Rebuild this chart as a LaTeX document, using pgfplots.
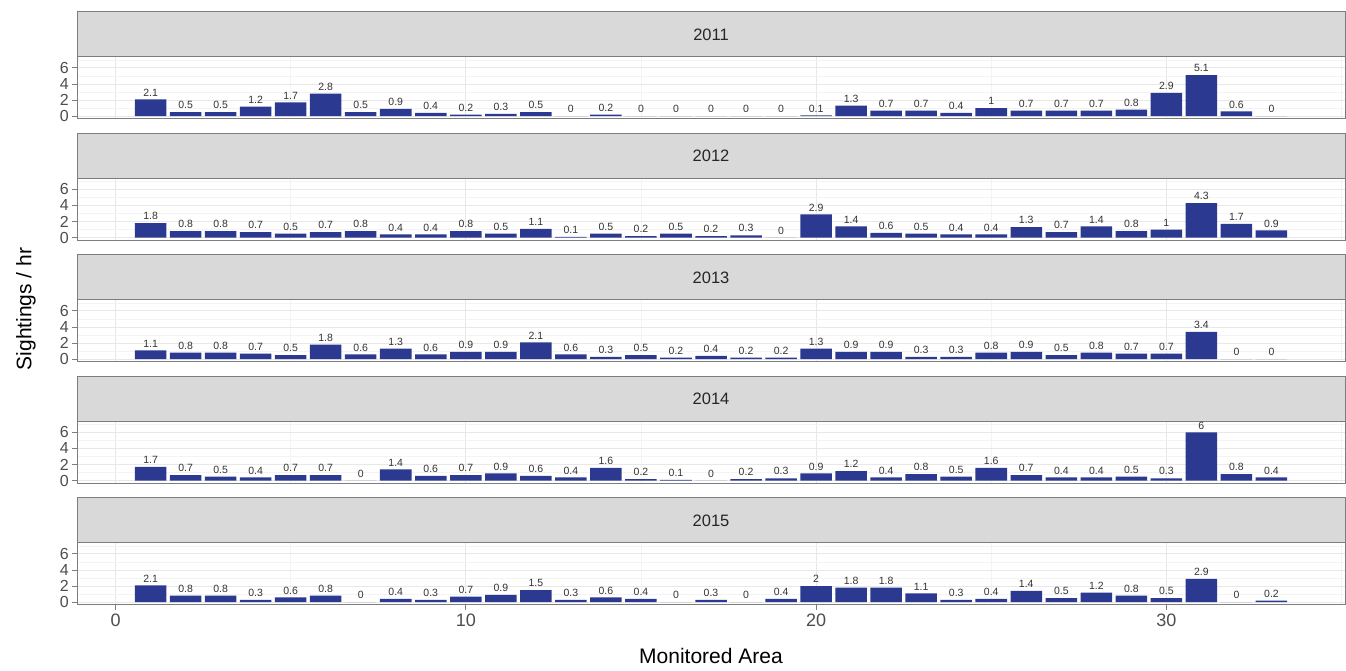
\documentclass[border=0pt]{standalone}
\usepackage{pgfplots}
\pgfplotsset{compat=1.18}
\usepackage{pgfplotstable}
\usepackage{fontspec}
\setmainfont{Liberation Sans}

\definecolor{barblue}{RGB}{44,57,145}
\definecolor{stripgrey}{RGB}{217,217,217}
\definecolor{bordergrey}{RGB}{125,125,125}
\definecolor{gridmaj}{RGB}{232,232,232}
\definecolor{gridmin}{RGB}{243,243,243}
\definecolor{ticktext}{RGB}{77,77,77}

\pgfplotstableread{
x y2011 y2012 y2013 y2014 y2015
1 2.1 1.8 1.1 1.7 2.1
2 0.5 0.8 0.8 0.7 0.8
3 0.5 0.8 0.8 0.5 0.8
4 1.2 0.7 0.7 0.4 0.3
5 1.7 0.5 0.5 0.7 0.6
6 2.8 0.7 1.8 0.7 0.8
7 0.5 0.8 0.6 0 0
8 0.9 0.4 1.3 1.4 0.4
9 0.4 0.4 0.6 0.6 0.3
10 0.2 0.8 0.9 0.7 0.7
11 0.3 0.5 0.9 0.9 0.9
12 0.5 1.1 2.1 0.6 1.5
13 0 0.1 0.6 0.4 0.3
14 0.2 0.5 0.3 1.6 0.6
15 0 0.2 0.5 0.2 0.4
16 0 0.5 0.2 0.1 0
17 0 0.2 0.4 0 0.3
18 0 0.3 0.2 0.2 0
19 0 0 0.2 0.3 0.4
20 0.1 2.9 1.3 0.9 2
21 1.3 1.4 0.9 1.2 1.8
22 0.7 0.6 0.9 0.4 1.8
23 0.7 0.5 0.3 0.8 1.1
24 0.4 0.4 0.3 0.5 0.3
25 1 0.4 0.8 1.6 0.4
26 0.7 1.3 0.9 0.7 1.4
27 0.7 0.7 0.5 0.4 0.5
28 0.7 1.4 0.8 0.4 1.2
29 0.8 0.8 0.7 0.5 0.8
30 2.9 1 0.7 0.3 0.5
31 5.1 4.3 3.4 6 2.9
32 0.6 1.7 0 0.8 0
33 0 0.9 0 0.4 0.2
}\data

\pgfplotsset{
  /pgf/number format/assume math mode=true,
  facet/.style={
    at={(77pt,#1)}, anchor=south west,
    scale only axis, width=1268pt, height=62pt,
    xmin=-1.1, xmax=35.1, ymin=-0.35, ymax=7.35,
    ybar, bar width=0.9,
    ytick={0,2,4,6}, minor ytick={1,3,5,7},
    xtick={0,10,20,30}, minor xtick={5,15,25,35},
    grid=both,
    major grid style={draw=gridmaj, line width=0.9pt},
    minor grid style={draw=gridmin, line width=0.5pt},
    axis line style={draw=bordergrey, line width=1pt},
    tick style={draw=bordergrey, line width=0.9pt},
    minor tick length=0pt, major tick length=5pt,
    tick align=outside, xtick pos=bottom, ytick pos=left,
    y tick label style={font=\fontsize{16}{16}\selectfont, text=ticktext, inner sep=0pt, xshift=-3pt},
    x tick label style={font=\fontsize{18}{18}\selectfont, text=ticktext},
    clip=false,
    nodes near coords,
    nodes near coords align={vertical},
    every node near coord/.append style={font=\fontsize{10.5}{10.5}\selectfont, text=black!80, anchor=south, inner sep=3pt},
  },
  upper/.style={xticklabels={}, x tick style={draw=none}},
}

\newcommand{\facet}[4]{%
\begin{axis}[facet=#1, #4]
\addplot[fill=barblue, draw=none] table[x=x, y=#2]{\data};
\fill[stripgrey] (rel axis cs:0,1) rectangle (rel axis cs:1,1.7258);
\draw[bordergrey, line width=1pt] (rel axis cs:0,1) rectangle (rel axis cs:1,1.7258);
\node[font=\fontsize{16.5}{17}\selectfont, text=black!85] at (rel axis cs:0.5,1.3629) {#3};
\end{axis}}

\begin{document}
\begin{tikzpicture}
\useasboundingbox (0,0) rectangle (1346pt,671pt);
\facet{552pt}{y2011}{2011}{upper}
\facet{430.5pt}{y2012}{2012}{upper}
\facet{309pt}{y2013}{2013}{upper}
\facet{187.5pt}{y2014}{2014}{upper}
\facet{66pt}{y2015}{2015}{}
\node[font=\fontsize{21}{22}\selectfont, anchor=base] at (711pt,7pt) {Monitored Area};
\node[font=\fontsize{21}{22}\selectfont, rotate=90, anchor=center] at (26pt,362pt) {Sightings / hr};
\end{tikzpicture}
\end{document}
